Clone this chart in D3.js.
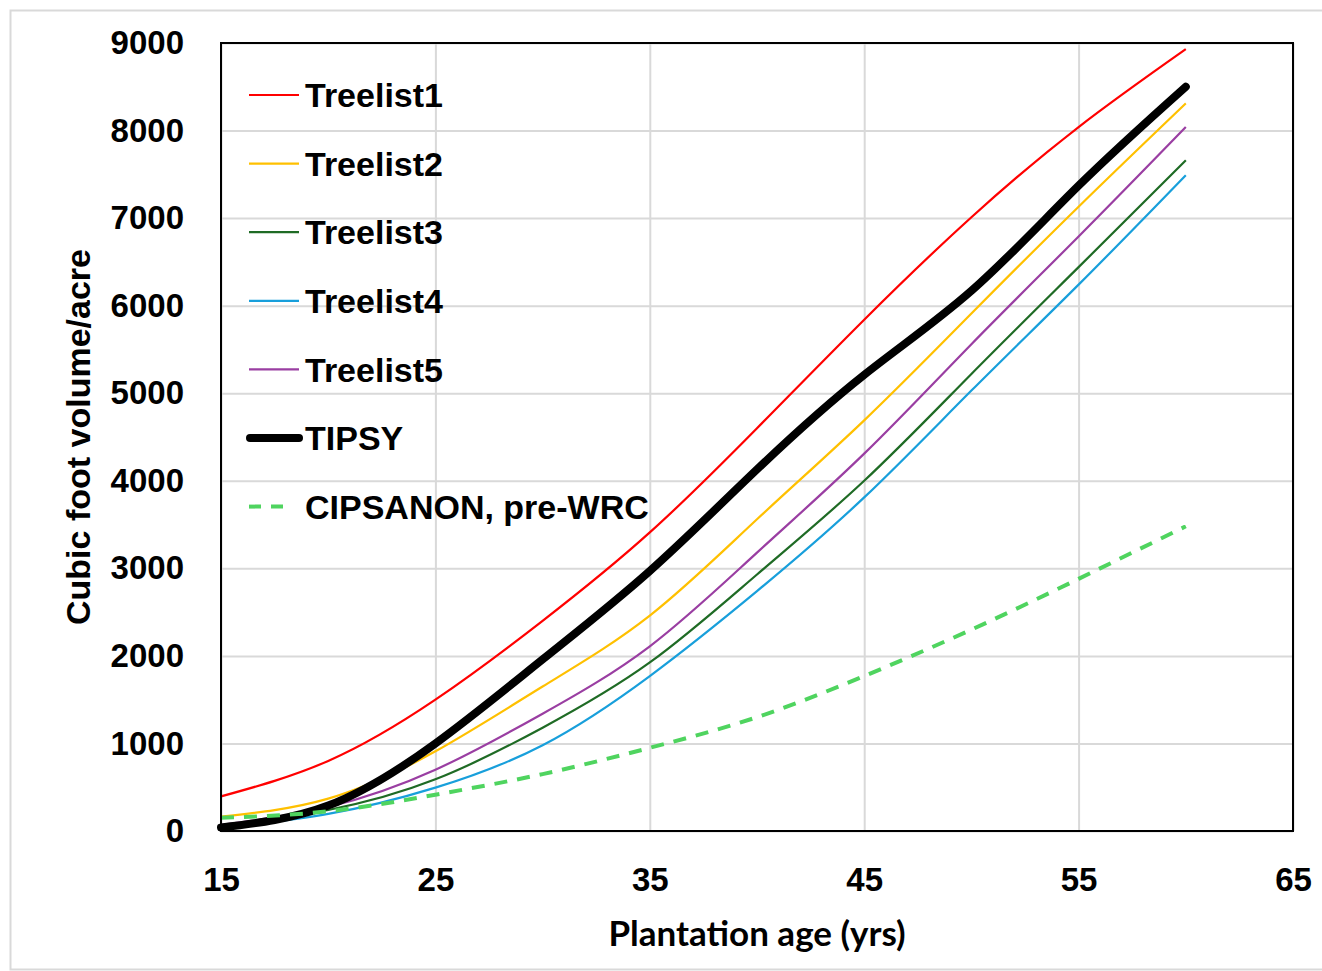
<!doctype html>
<html>
<head>
    <style>
        body { margin: 0; background: #fff; }
        text { fill: #000; }
    </style>
    <script src="https://d3js.org/d3.v7.min.js"></script>
</head>
<body>
    <svg width="1322" height="971"></svg>
    <script>
        // plantation age (yrs)
        var ages = [15, 20, 25, 30, 35, 40, 45, 50, 55, 60];

        // cubic foot volume/acre
        var treelist1 = [395, 800, 1500, 2400, 3410, 4600, 5840, 7010, 8040, 8930];
        var treelist2 = [165, 370, 910, 1650, 2460, 3560, 4690, 5910, 7130, 8310];
        var treelist3 = [60, 240, 590, 1180, 1925, 2930, 4000, 5220, 6440, 7660];
        var treelist4 = [40, 195, 495, 980, 1770, 2740, 3810, 5030, 6240, 7490];
        var treelist5 = [70, 275, 700, 1340, 2110, 3180, 4310, 5560, 6790, 8040];
        var tipsy = [40, 290, 1000, 1960, 2970, 4130, 5210, 6170, 7370, 8500];
        var cipsanon = [150, 225, 415, 650, 950, 1300, 1770, 2300, 2880, 3480];

        var seriesNames = ["Treelist1", "Treelist2", "Treelist3", "Treelist4", "Treelist5", "TIPSY", "CIPSANON, pre-WRC"];
        var xTicks = [15, 25, 35, 45, 55, 65];
        var yTicks = [0, 1000, 2000, 3000, 4000, 5000, 6000, 7000, 8000, 9000];

        var series = [
            { name: seriesNames[0], values: treelist1, color: "#ff0000", width: 2.2, dash: null },
            { name: seriesNames[1], values: treelist2, color: "#ffc000", width: 2.2, dash: null },
            { name: seriesNames[2], values: treelist3, color: "#1f6b25", width: 2.2, dash: null },
            { name: seriesNames[3], values: treelist4, color: "#189fdb", width: 2.2, dash: null },
            { name: seriesNames[4], values: treelist5, color: "#9a3ea2", width: 2.2, dash: null },
            { name: seriesNames[5], values: tipsy, color: "#000000", width: 8, dash: null },
            { name: seriesNames[6], values: cipsanon, color: "#4fd45f", width: 4, dash: "13,10" }
        ];

        var svg = d3.select("svg");
        var margin = { top: 43, right: 29, bottom: 140, left: 221 };
        var width = 1293 - margin.left,
            height = 831 - margin.top;

        // outer chart border
        svg.append("rect")
            .attr("x", 10.5).attr("y", 10.5)
            .attr("width", 1320).attr("height", 959)
            .attr("fill", "none")
            .attr("stroke", "#d9d9d9")
            .attr("stroke-width", 2);

        var g = svg.append("g")
            .attr("transform", "translate(" + margin.left + "," + margin.top + ")");

        var x = d3.scaleLinear().domain([15, 65]).range([0, width]);
        var y = d3.scaleLinear().domain([0, 9000]).range([height, 0]);

        // gridlines
        g.append("g")
            .call(d3.axisLeft(y).tickValues(yTicks).tickSize(-width).tickFormat(""))
            .call(function (s) { s.select(".domain").remove(); })
            .selectAll("line").attr("stroke", "#d9d9d9").attr("stroke-width", 2);

        g.append("g")
            .attr("transform", "translate(0," + height + ")")
            .call(d3.axisBottom(x).tickValues(xTicks).tickSize(-height).tickFormat(""))
            .call(function (s) { s.select(".domain").remove(); })
            .selectAll("line").attr("stroke", "#d9d9d9").attr("stroke-width", 2);

        // tick labels
        var yAxis = g.append("g")
            .call(d3.axisLeft(y).tickValues(yTicks).tickSize(0).tickPadding(37).tickFormat(d3.format("d")));
        yAxis.select(".domain").remove();
        yAxis.selectAll("text")
            .attr("font-family", "'Liberation Sans', Arial, sans-serif")
            .attr("font-weight", "bold")
            .attr("font-size", 33)
            .attr("fill", "#000");

        var xAxis = g.append("g")
            .attr("transform", "translate(0," + height + ")")
            .call(d3.axisBottom(x).tickValues(xTicks).tickSize(0).tickPadding(37));
        xAxis.select(".domain").remove();
        xAxis.selectAll("text")
            .attr("font-family", "'Liberation Sans', Arial, sans-serif")
            .attr("font-weight", "bold")
            .attr("font-size", 33)
            .attr("fill", "#000");

        // lines
        var line = d3.line()
            .x(function (d, i) { return x(ages[i]); })
            .y(function (d) { return y(d); })
            .curve(d3.curveNatural);

        g.selectAll(".series")
            .data(series)
            .enter().append("path")
            .attr("class", "series")
            .attr("d", function (d) { return line(d.values); })
            .attr("fill", "none")
            .attr("stroke", function (d) { return d.color; })
            .attr("stroke-width", function (d) { return d.width; })
            .attr("stroke-dasharray", function (d) { return d.dash; })
            .attr("stroke-linecap", function (d) { return d.width > 5 ? "round" : "butt"; })
            .attr("stroke-linejoin", "round");

        // plot frame
        g.append("rect")
            .attr("width", width).attr("height", height)
            .attr("fill", "none")
            .attr("stroke", "#000")
            .attr("stroke-width", 2);

        // legend
        var legend = g.selectAll(".legend")
            .data(series)
            .enter().append("g")
            .attr("class", "legend")
            .attr("transform", function (d, i) { return "translate(0," + (52 + i * 68.6) + ")"; });

        legend.append("line")
            .attr("x1", function (d) { return d.width > 5 ? 29 : 28; })
            .attr("x2", function (d) { return d.dash ? 70 : 78; })
            .attr("stroke", function (d) { return d.color; })
            .attr("stroke-width", function (d) { return d.width > 5 ? 8 : d.width; })
            .attr("stroke-dasharray", function (d) { return d.dash ? "12,10" : null; })
            .attr("stroke-linecap", function (d) { return d.width > 5 ? "round" : "butt"; });

        legend.append("text")
            .attr("x", 84)
            .attr("dy", "0.36em")
            .attr("font-family", "'Liberation Sans Narrow', 'Liberation Sans', Arial, sans-serif")
            .attr("font-weight", "bold")
            .attr("font-size", 34)
            .text(function (d) { return d.name; });

        // axis titles
        svg.append("text")
            .attr("x", 757).attr("y", 946)
            .attr("text-anchor", "middle")
            .attr("font-family", "Lato, 'Liberation Sans', sans-serif")
            .attr("font-weight", "bold")
            .attr("font-size", 35)
            .text("Plantation age (yrs)");

        svg.append("text")
            .attr("transform", "translate(90,437) rotate(-90)")
            .attr("text-anchor", "middle")
            .attr("font-family", "'Liberation Sans', Arial, sans-serif")
            .attr("font-weight", "bold")
            .attr("font-size", 34)
            .text("Cubic foot volume/acre");
    </script>
</body>
</html>
